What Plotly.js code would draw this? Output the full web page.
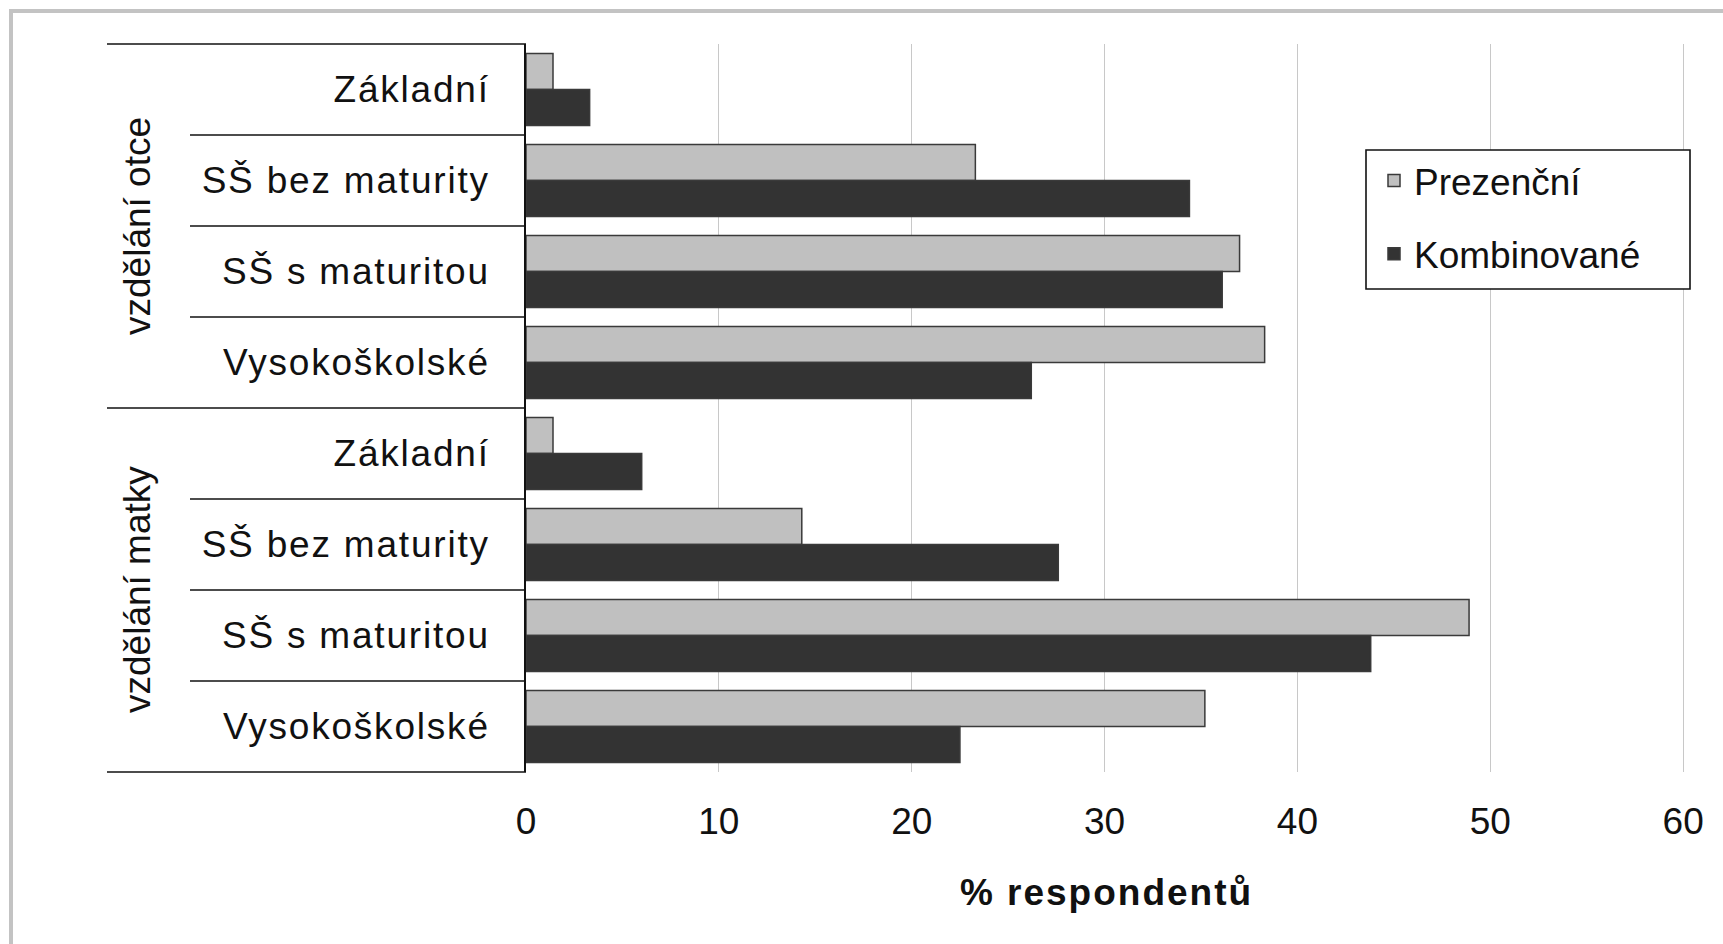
<!DOCTYPE html>
<html>
<head>
<meta charset="utf-8">
<script src="https://cdn.plot.ly/plotly-3.0.1.min.js"></script>
<style>
  html, body { margin: 0; padding: 0; background: #ffffff; }
  #chart { width: 1723px; height: 944px; }
  #chart .ytick text { letter-spacing: 1.8px; }
  #chart .g-xtitle text { letter-spacing: 2px; }
</style>
</head>
<body>
<div id="chart"></div>
<script>
// ---- data ----
const groups = ['vzdělání otce', 'vzdělání matky'];
const categories = ['Základní', 'SŠ bez maturity', 'SŠ s maturitou', 'Vysokoškolské'];
const seriesNames = ['Prezenční', 'Kombinované'];
const prezencni = [1.4, 23.3, 37.0, 38.3, 1.4, 14.3, 48.9, 35.2];
const kombinovane = [3.3, 34.4, 36.1, 26.2, 6.0, 27.6, 43.8, 22.5];
const xTicks = [0, 10, 20, 30, 40, 50, 60];
const xTitle = '% respondentů';

// ---- build category keys ----
const keys = [];
const labels = [];
groups.forEach(g => categories.forEach(c => { keys.push(g + ' | ' + c); labels.push(c); }));

const FONT = 'Liberation Sans, Arial, sans-serif';
const FS = 37;

// pixel -> paper helpers (plot area: x 526..1687, y 44..772)
const L = 526, R = 1687, T = 44, B = 772;
const px = v => (v - L) / (R - L);
const py = v => (B - v) / (B - T);

const traces = [
  {
    type: 'bar', orientation: 'h', name: seriesNames[0], legendgroup: 'a',
    x: prezencni, y: keys,
    marker: { color: '#c0c0c0', line: { color: '#3a3a3a', width: 1.5 } }
  },
  {
    type: 'bar', orientation: 'h', name: seriesNames[1], legendgroup: 'b',
    x: kombinovane, y: keys,
    marker: { color: '#333333', line: { color: '#3a3a3a', width: 1.5 } }
  }
];

const shapes = [];
// outer frame (top + left, light gray)
shapes.push({ type: 'line', xref: 'paper', yref: 'paper', x0: px(11), x1: px(1723), y0: py(11), y1: py(11), line: { color: '#c3c3c3', width: 4 } });
shapes.push({ type: 'line', xref: 'paper', yref: 'paper', x0: px(11), x1: px(11), y0: py(9), y1: py(944), line: { color: '#c3c3c3', width: 4 } });
// table lines at the left
const nCat = keys.length;
for (let i = 0; i <= nCat; i++) {
  const yp = 1 - i / nCat;
  const isGroup = (i % categories.length === 0);
  shapes.push({
    type: 'line', xref: 'paper', yref: 'paper',
    x0: isGroup ? px(107) : px(190), x1: 0, y0: yp, y1: yp,
    line: { color: '#111111', width: 1.6 }
  });
}
// legend frame (opaque, hides the gridline behind the legend)
shapes.push({
  type: 'rect', xref: 'paper', yref: 'paper',
  x0: px(1366), x1: px(1690), y0: py(289), y1: py(150),
  line: { color: '#111111', width: 1.6 }, fillcolor: '#ffffff', layer: 'above'
});

const annotations = groups.map((g, i) => ({
  xref: 'paper', yref: 'paper', x: px(137), y: 1 - (i + 0.5) / groups.length,
  text: g, showarrow: false, textangle: -90, xanchor: 'center', yanchor: 'middle',
  font: { family: FONT, size: FS, color: '#111111' }
}));

const layout = {
  width: 1723, height: 944,
  margin: { l: L, r: 1723 - R, t: T, b: 944 - B, pad: 0 },
  paper_bgcolor: '#ffffff', plot_bgcolor: '#ffffff',
  barmode: 'group', bargap: 0.21, bargroupgap: 0,
  font: { family: FONT, size: FS, color: '#111111' },
  showlegend: true,
  legend: {
    x: px(1374), y: py(150), xanchor: 'left', yanchor: 'top',
    borderwidth: 0, bgcolor: 'rgba(255,255,255,0)',
    traceorder: 'grouped', tracegroupgap: 22,
    font: { family: FONT, size: FS, color: '#111111' }
  },
  xaxis: {
    range: [0, 60.2], tickvals: xTicks, ticktext: xTicks.map(String),
    showgrid: true, gridcolor: '#c8c8c8', gridwidth: 1.2,
    zeroline: false, showline: false, ticks: '',
    ticklabelstandoff: 24,
    tickfont: { family: FONT, size: FS, color: '#111111' },
    title: { text: xTitle, standoff: 38, font: { family: FONT, size: FS, weight: 'bold', color: '#111111' } },
    automargin: false, fixedrange: true
  },
  yaxis: {
    type: 'category', categoryorder: 'array', categoryarray: keys,
    autorange: 'reversed',
    tickvals: keys, ticktext: labels,
    showgrid: false, zeroline: false,
    showline: true, linecolor: '#111111', linewidth: 1.8,
    ticks: '', ticklabelstandoff: 27,
    tickfont: { family: FONT, size: FS, color: '#111111' },
    automargin: false, fixedrange: true
  },
  shapes: shapes,
  annotations: annotations
};

Plotly.newPlot('chart', traces, layout, { displayModeBar: false, staticPlot: true });
</script>
</body>
</html>
